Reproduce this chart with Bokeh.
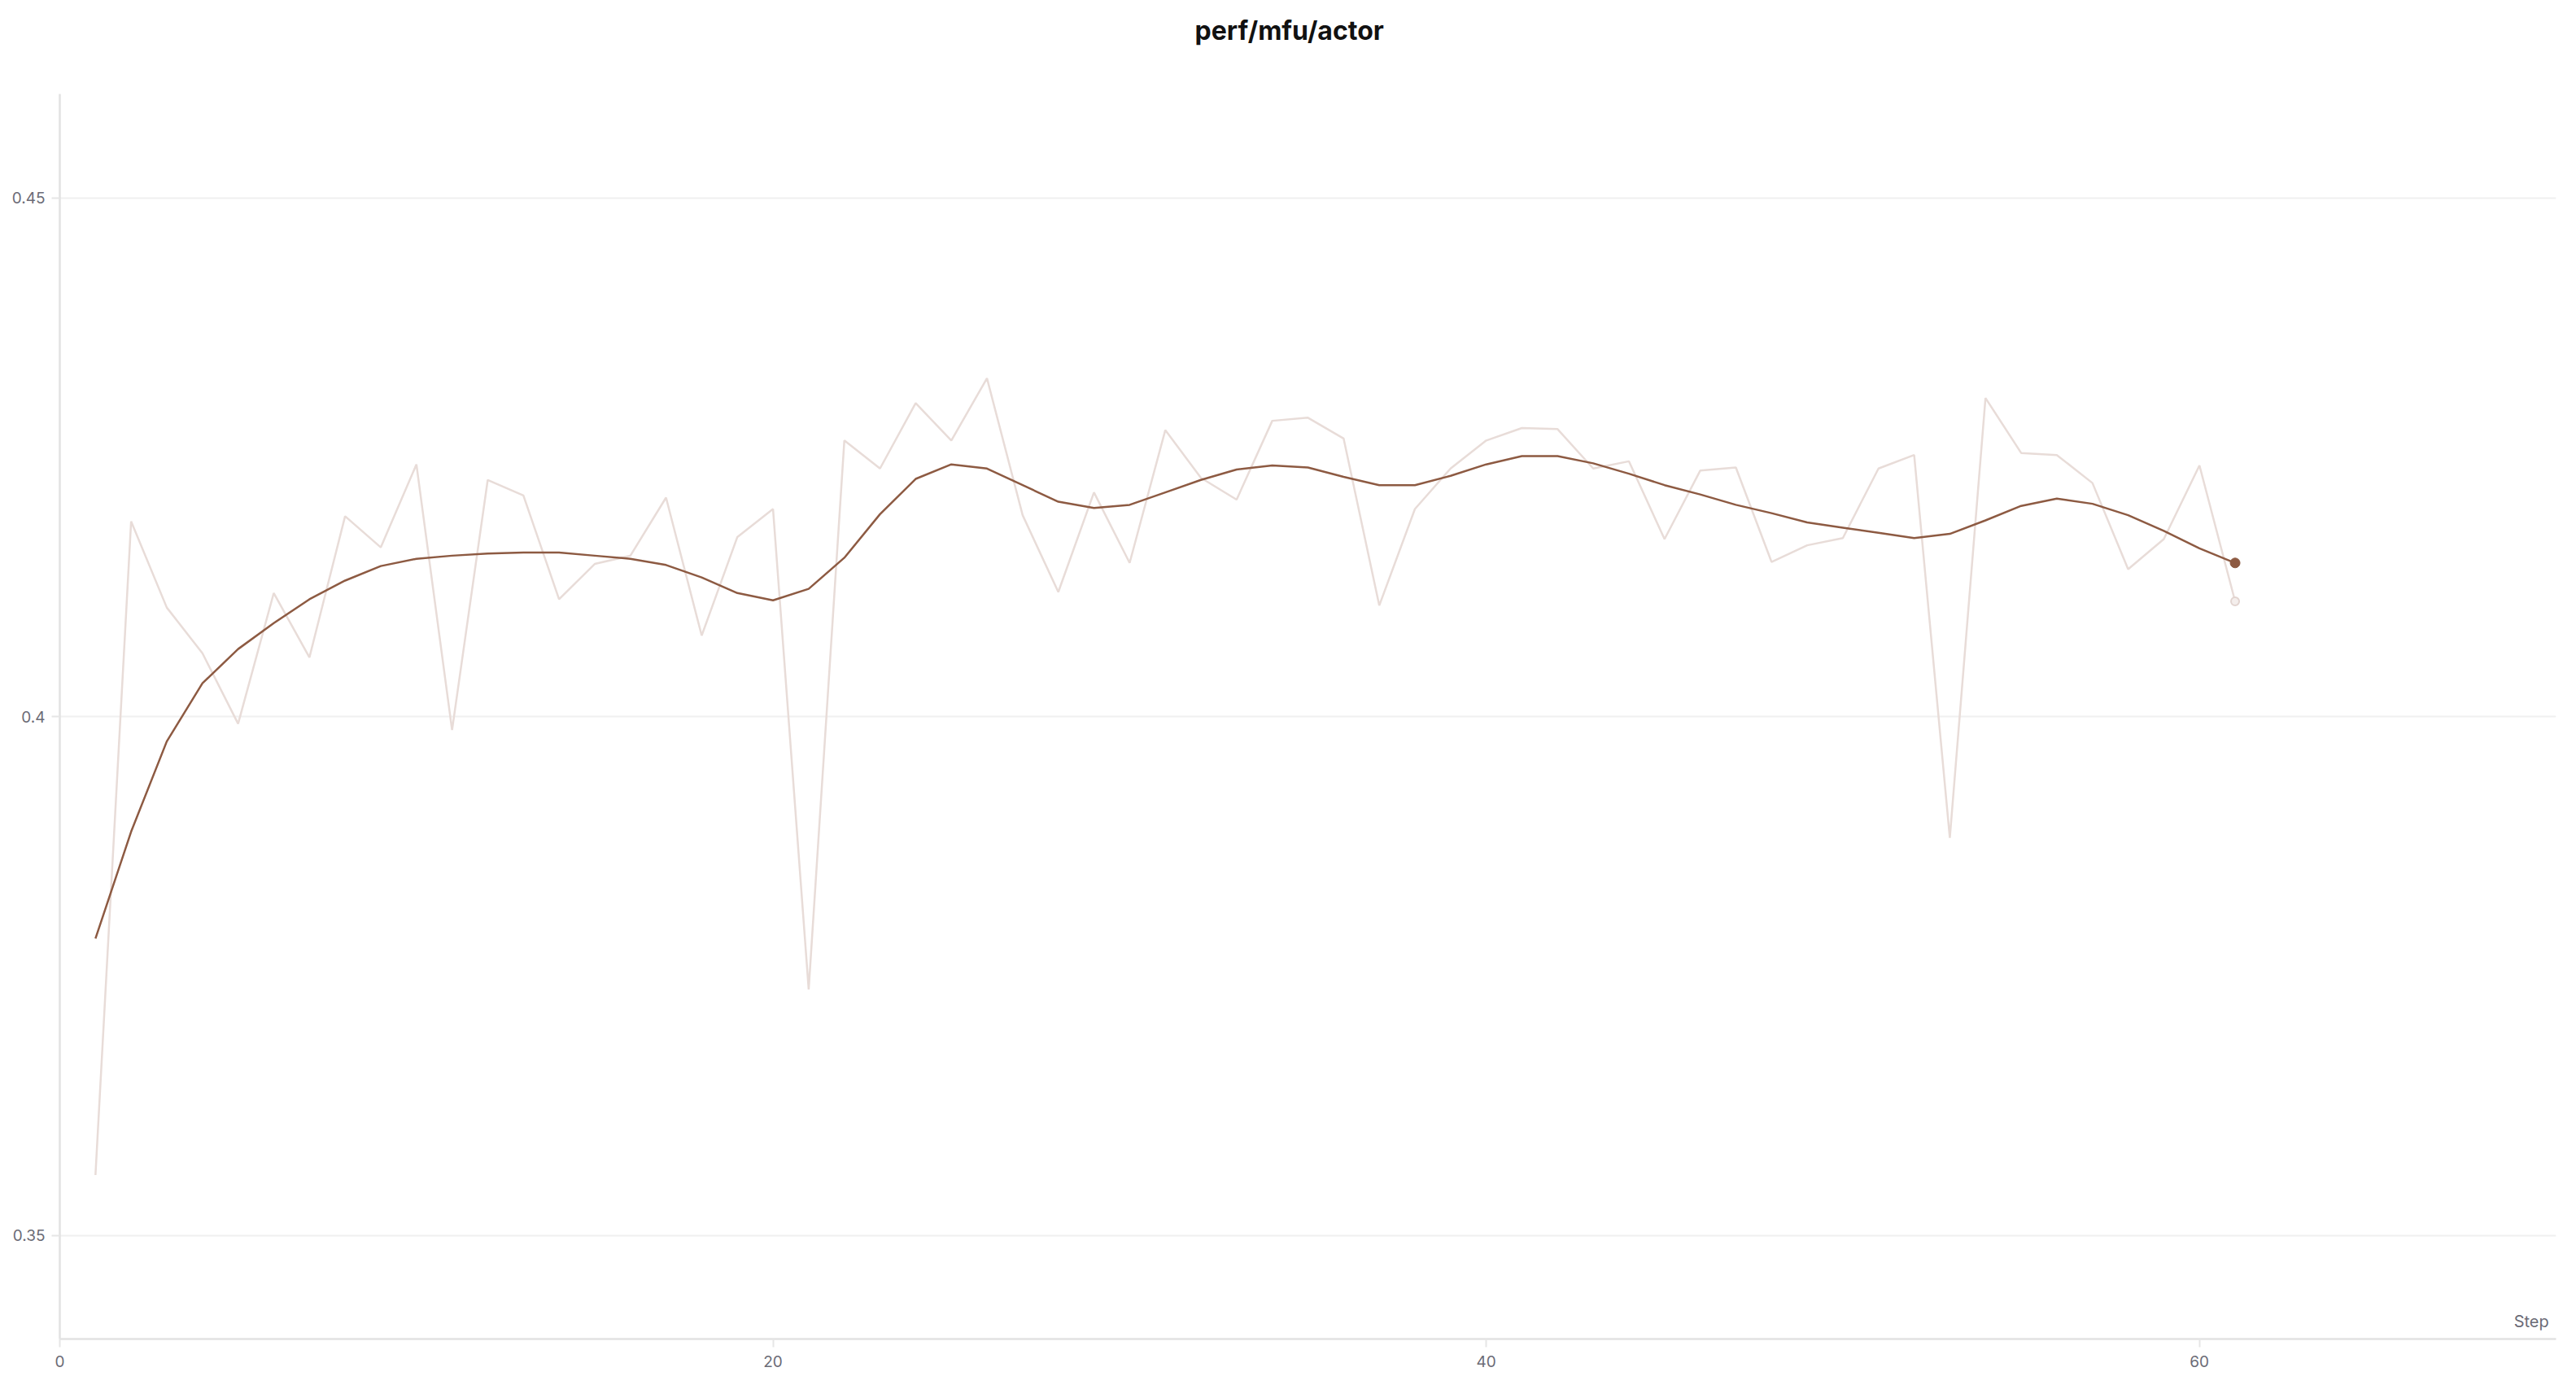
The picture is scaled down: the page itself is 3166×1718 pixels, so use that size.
from bokeh.plotting import figure
from bokeh.models import Range1d, FixedTicker, Label, Title
from bokeh.embed import file_html
from bokeh.resources import INLINE

# ---- data ----
steps = list(range(1, 62))
raw_values = [
    0.3558, 0.4188, 0.4105, 0.4061, 0.3993, 0.4119, 0.4057, 0.4193, 0.4163, 0.4243,
    0.3987, 0.4228, 0.4213, 0.4113, 0.4147, 0.4155, 0.4211, 0.4078, 0.4173, 0.4200,
    0.3737, 0.4266, 0.4239, 0.4302, 0.4266, 0.4326, 0.4194, 0.4120, 0.4216, 0.4148,
    0.4276, 0.4230, 0.4209, 0.4285, 0.4288, 0.4268, 0.4107, 0.4200, 0.4239, 0.4266,
    0.4278, 0.4277, 0.4239, 0.4246, 0.4171, 0.4237, 0.4240, 0.4149, 0.4165, 0.4172,
    0.4239, 0.4252, 0.3883, 0.4307, 0.4254, 0.4252, 0.4225, 0.4142, 0.4171, 0.4242,
    0.4111,
]
smoothed_values = [
    0.3786, 0.3889, 0.3976, 0.4032, 0.4065, 0.4090, 0.4113, 0.4131, 0.4145, 0.4152,
    0.4155, 0.4157, 0.4158, 0.4158, 0.4155, 0.4152, 0.4146, 0.4134, 0.4119, 0.4112,
    0.4123, 0.4153, 0.4195, 0.4229, 0.4243, 0.4239, 0.4223, 0.4207, 0.4201, 0.4204,
    0.4216, 0.4228, 0.4238, 0.4242, 0.4240, 0.4231, 0.4223, 0.4223, 0.4232, 0.4243,
    0.4251, 0.4251, 0.4244, 0.4234, 0.4223, 0.4214, 0.4204, 0.4196, 0.4187, 0.4182,
    0.4177, 0.4172, 0.4176, 0.4189, 0.4203, 0.4210, 0.4205, 0.4194, 0.4179, 0.4162,
    0.4148,
]
x_ticks = [0, 20, 40, 60]
y_ticks = [0.35, 0.4, 0.45]
y_tick_labels = ["0.35", "0.4", "0.45"]
title_text = "perf/mfu/actor"
x_label_text = "Step"

FONT = "Inter"
RAW_COLOR = "#e8dcd8"
SMOOTH_COLOR = "#8d5a42"
LABEL_COLOR = "#6b6b76"

p = figure(
    width=3150, height=1700,
    x_range=Range1d(0, 70), y_range=Range1d(0.34, 0.46),
    output_backend="svg", toolbar_location=None,
    min_border_left=73, min_border_right=9, min_border_top=115, min_border_bottom=55,
)
p.outline_line_color = None
p.background_fill_color = "white"
p.border_fill_color = "white"

# spacer panel between frame and title, then the title itself
p.add_layout(Title(text=" ", text_font=FONT, text_font_size="20px", standoff=33), "above")
p.add_layout(Title(text=title_text, align="left", offset=1395, standoff=0,
                   text_font=FONT, text_font_size="32px", text_font_style="bold",
                   text_color="#111111"), "above")

# axes
for ax in (p.xaxis[0], p.yaxis[0]):
    ax.axis_line_color = "#e2e2e2"
    ax.axis_line_width = 2.5
    ax.major_tick_line_color = "#e6e6e6"
    ax.major_tick_line_width = 2
    ax.major_tick_out = 10
    ax.major_tick_in = 0
    ax.minor_tick_line_color = None
    ax.major_label_text_font = FONT
    ax.major_label_text_font_size = "19px"
    ax.major_label_text_color = LABEL_COLOR

p.xaxis[0].ticker = FixedTicker(ticks=x_ticks)
p.xaxis[0].major_label_standoff = 10
p.yaxis[0].ticker = FixedTicker(ticks=y_ticks)
p.yaxis[0].major_label_overrides = {t: s for t, s in zip(y_ticks, y_tick_labels)}
p.yaxis[0].major_label_standoff = 8

p.xgrid.grid_line_color = None
p.ygrid.grid_line_color = "#f0f0f0"
p.ygrid.grid_line_width = 2

# raw series
p.line(steps, raw_values, line_color=RAW_COLOR, line_width=2.5)
p.scatter([steps[-1]], [raw_values[-1]], size=10, fill_color="#f4eeec",
          line_color="#e2d4d0", line_width=2)

# smoothed series
p.line(steps, smoothed_values, line_color=SMOOTH_COLOR, line_width=2.5)
p.scatter([steps[-1]], [smoothed_values[-1]], size=12, fill_color=SMOOTH_COLOR,
          line_color=SMOOTH_COLOR)

# x-axis name inside the frame, bottom right
p.add_layout(Label(x=69.8, y=0.3417, text=x_label_text, text_align="right",
                   text_baseline="alphabetic", text_font=FONT,
                   text_font_size="20px", text_color=LABEL_COLOR))

open("out.html", "w").write(file_html(p, INLINE))
